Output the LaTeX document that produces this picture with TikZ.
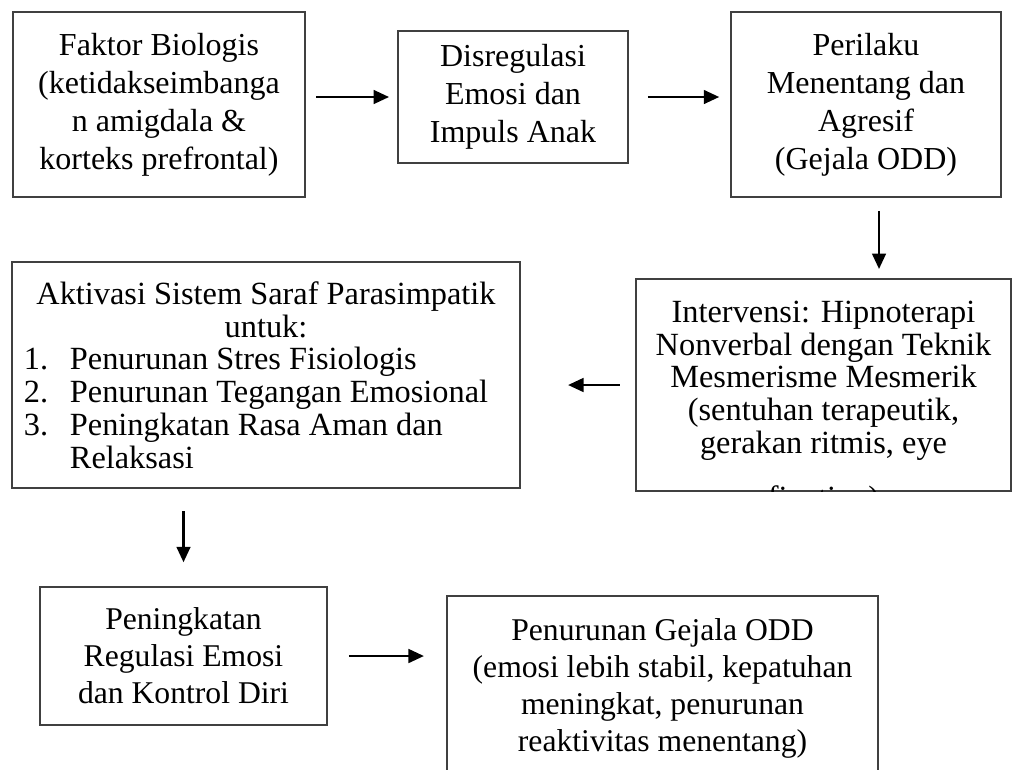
\documentclass[tikz,border=0pt]{standalone}
\usepackage{fontspec}
\setmainfont{Liberation Serif}
\usetikzlibrary{arrows.meta}

\tikzset{
  box/.style={draw=black!75, line width=0.45pt, inner sep=0pt, align=center},
  toptext/.style={font=\fontsize{9.1}{10.8}\selectfont},
  midtext/.style={font=\fontsize{9.2}{9.3}\selectfont},
  lowtext/.style={font=\fontsize{9}{10.5}\selectfont},
  arr/.style={-{Triangle[length=4.4pt,width=3.9pt]}, line width=0.7pt},
}

\begin{document}
\begin{tikzpicture}[x=0.01cm,y=-0.01cm]
\useasboundingbox (0,0) rectangle (1013,769);
\clip (0,0) rectangle (1013,769);

% baris atas
\node[box, toptext, minimum width=2.92cm, minimum height=1.85cm] (faktor) at (159,104.5)
  {Faktor Biologis\\(ketidakseimbanga\\n amigdala \&\\korteks prefrontal)};
\node[box, toptext, minimum width=2.30cm, minimum height=1.32cm] (disreg) at (513,97)
  {Disregulasi\\Emosi dan\\Impuls Anak};
\node[box, toptext, minimum width=2.70cm, minimum height=1.85cm] (perilaku) at (866,104.5)
  {Perilaku\\Menentang dan\\Agresif\\(Gejala ODD)};

% baris tengah
\node[box, minimum width=3.75cm, minimum height=2.12cm] (intervensi) at (823.5,385) {};
\begin{scope}
  \clip (intervensi.north west) rectangle (intervensi.south east);
  \node[midtext, inner sep=0pt, align=center, anchor=north] (intervensitext)
    at ([yshift=-0.22cm]intervensi.north)
    {Intervensi: Hipnoterapi\\Nonverbal dengan Teknik\\Mesmerisme Mesmerik\\(sentuhan terapeutik,\\gerakan ritmis, eye\\[6.4pt]fixation)};
\end{scope}
\node[box, midtext, inner xsep=0.12cm, minimum height=2.26cm, align=left] (aktivasi) at (266,375)
  {\makebox[4.84cm][c]{Aktivasi Sistem Saraf Parasimpatik}\\
   \makebox[4.84cm][c]{untuk:}\\
   \makebox[13.1pt][l]{1.}Penurunan Stres Fisiologis\\
   \makebox[13.1pt][l]{2.}Penurunan Tegangan Emosional\\
   \makebox[13.1pt][l]{3.}Peningkatan Rasa Aman dan\\
   \hspace*{13.1pt}Relaksasi};

% baris bawah
\node[box, lowtext, minimum width=2.87cm, minimum height=1.38cm] (peningkatan) at (183.5,656)
  {Peningkatan\\Regulasi Emosi\\dan Kontrol Diri};
\node[box, minimum width=4.31cm, minimum height=2.04cm] (penurunan) at (662.5,698) {};
\node[lowtext, inner sep=0pt, align=center, anchor=north] (penurunantext)
  at ([yshift=-0.23cm]penurunan.north)
  {Penurunan Gejala ODD\\(emosi lebih stabil, kepatuhan\\meningkat, penurunan\\reaktivitas menentang)};

% panah
\draw[arr, shorten <=3pt, shorten >=2.3pt] (faktor.east |- disreg.west) -- (disreg.west);
\draw[arr, shorten <=5.4pt, shorten >=3.1pt] (disreg.east) -- (disreg.east -| perilaku.west);
\draw[arr, shorten <=3.7pt, shorten >=2.6pt] ([xshift=0.13cm]perilaku.south) -- ([xshift=0.13cm]perilaku.south |- intervensi.north);
\draw[arr, shorten <=4.3pt, shorten >=13.4pt] (intervensi.west) -- (intervensi.west -| aktivasi.east);
\draw[arr, shorten <=6.3pt, shorten >=6.8pt] (aktivasi.south -| peningkatan.north) -- (peningkatan.north);
\draw[arr, shorten <=6pt, shorten >=6.3pt] (peningkatan.east) -- (peningkatan.east -| penurunan.west);
\end{tikzpicture}
\end{document}
